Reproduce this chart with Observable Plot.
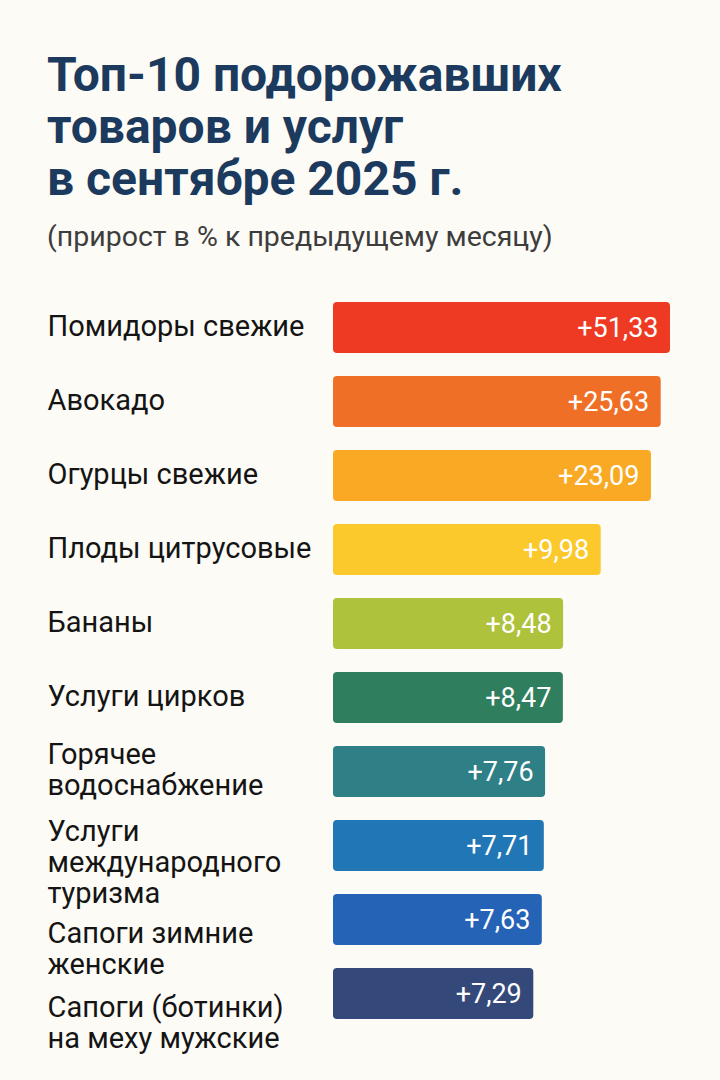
<!DOCTYPE html>
<html>
<head>
<meta charset="utf-8">
<script src="https://cdn.jsdelivr.net/npm/d3@7"></script>
<script src="https://cdn.jsdelivr.net/npm/@observablehq/plot@0.6"></script>
<style>
  html, body { margin: 0; padding: 0; background: #FDFBF6; }
  body { width: 720px; height: 1080px; overflow: hidden; font-family: Roboto, "Noto Sans", sans-serif; }
  #head { height: 270px; box-sizing: border-box; padding: 49px 0 0 47px; overflow: hidden; }
  #title { font-size: 48px; font-weight: 700; line-height: 52px; color: #1B3A5D; }
  #subtitle { font-size: 28.5px; line-height: 33px; font-weight: 400; color: #3d3d3d; margin-top: 15px; }
  #chart svg { display: block; }
</style>
</head>
<body>
<div id="head">
  <div id="title">Топ-10 подорожавших<br>товаров и услуг<br>в сентябре 2025 г.</div>
  <div id="subtitle">(прирост в % к предыдущему месяцу)</div>
</div>
<div id="chart"></div>
<script>
const categories = [
  "Помидоры свежие",
  "Авокадо",
  "Огурцы свежие",
  "Плоды цитрусовые",
  "Бананы",
  "Услуги цирков",
  "Горячее\nводоснабжение",
  "Услуги\nмеждународного\nтуризма",
  "Сапоги зимние\nженские",
  "Сапоги (ботинки)\nна меху мужские"
];
const values = [51.33, 25.63, 23.09, 9.98, 8.48, 8.47, 7.76, 7.71, 7.63, 7.29];
const valueLabels = ["+51,33", "+25,63", "+23,09", "+9,98", "+8,48", "+8,47", "+7,76", "+7,71", "+7,63", "+7,29"];
const palette = ["#EE3A22", "#EF6F27", "#F9A923", "#FBC92B", "#AEC23B", "#2F7E5E", "#2E8086", "#2176B5", "#2563B7", "#34497A"];

const data = categories.map((c, i) => ({category: c, value: values[i], label: valueLabels[i], row: i}));

const labelStyle = {
  y: "category", text: "category", frameAnchor: "left",
  textAnchor: "start", fill: "#141414", fontSize: 29, lineHeight: 1.06
};

const chart = Plot.plot({
  width: 720,
  height: 800,
  marginTop: 5,
  marginBottom: 24,
  marginLeft: 47,
  marginRight: 20,
  style: {background: "transparent", fontFamily: "Roboto, 'Noto Sans', sans-serif"},
  x: {type: "linear", domain: [0, 7.29, 9.98, 25.63, 51.33], range: [333, 533.3, 600.7, 660.7, 670], axis: null},
  y: {domain: categories, padding: 0.315, axis: null},
  color: {domain: categories, range: palette},
  marks: [
    Plot.barX(data, {x: "value", y: "category", fill: "category", rx: 4}),
    Plot.text(data, {
      x: "value", y: "category", text: "label",
      textAnchor: "end", dx: -12, fill: "white",
      fontSize: 27, fontWeight: 400
    }),
    Plot.text(data.filter(d => d.row < 7), {...labelStyle, dy: -2}),
    Plot.text(data.filter(d => d.row === 7), {...labelStyle, dy: 16}),
    Plot.text(data.filter(d => d.row > 7), {...labelStyle, dy: 29})
  ]
});
document.getElementById("chart").appendChild(chart);
</script>
</body>
</html>
